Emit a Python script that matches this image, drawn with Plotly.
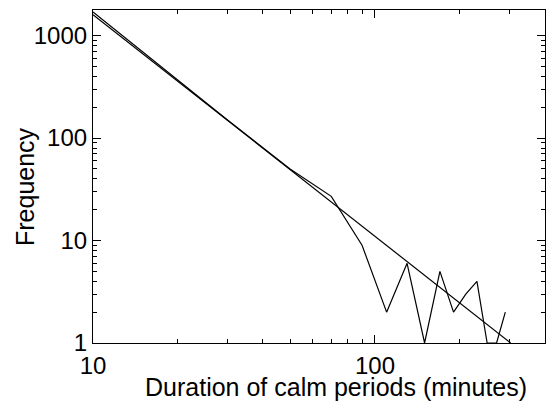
import plotly.graph_objects as go
import numpy as np

# Data
duration = [10, 30, 50, 70, 90, 110, 130, 150, 170, 190, 210, 230, 250, 270, 290]
frequency = [1700, 150, 50, 27, 9, 2, 6, 1, 5, 2, 3, 4, 1, 1, 2]

fit_x = [10, 303]
fit_y = [1600, 1]

x_tickvals = [10, 100]
y_tickvals = [1, 10, 100, 1000]

fig = go.Figure()
fig.add_trace(go.Scatter(x=duration, y=frequency, mode="lines",
                         line=dict(color="black", width=1.2), showlegend=False))
fig.add_trace(go.Scatter(x=fit_x, y=fit_y, mode="lines",
                         line=dict(color="black", width=1.2), showlegend=False))

tick_font = dict(family="Liberation Sans, Arial, sans-serif", size=24, color="black")
title_font = dict(family="Liberation Sans, Arial, sans-serif", size=25, color="black")

axis_common = dict(
    type="log", showgrid=False, zeroline=False, showline=True, linecolor="black",
    linewidth=1.2, mirror="ticks", ticks="inside", ticklen=8, tickwidth=1.2,
    tickcolor="black", tickfont=tick_font, dtick=1,
    minor=dict(ticks="inside", ticklen=4, tickwidth=1.2, tickcolor="black",
               dtick="D1", showgrid=False),
)

fig.update_xaxes(range=[1, np.log10(401)], tickvals=x_tickvals,
                 ticktext=[str(v) for v in x_tickvals], ticklabelstandoff=1,
                 **axis_common)
fig.update_yaxes(range=[0, 3.25], tickvals=y_tickvals,
                 ticktext=[str(v) for v in y_tickvals], **axis_common)

fig.update_layout(
    width=549, height=402,
    margin=dict(l=93, r=4, t=10, b=59),
    plot_bgcolor="white", paper_bgcolor="white",
    font=title_font,
    annotations=[
        dict(text="Duration of calm periods (minutes)", xref="paper", yref="paper",
             x=(336 - 93) / (545 - 93), y=0, xanchor="center", yanchor="top",
             yshift=-28, showarrow=False, font=title_font),
        dict(text="Frequency", xref="paper", yref="paper",
             x=0, xshift=-68, y=(343 - 187) / (343 - 10), xanchor="center",
             yanchor="middle", textangle=-90, showarrow=False, font=title_font),
    ],
)

fig.write_html("out.html")
